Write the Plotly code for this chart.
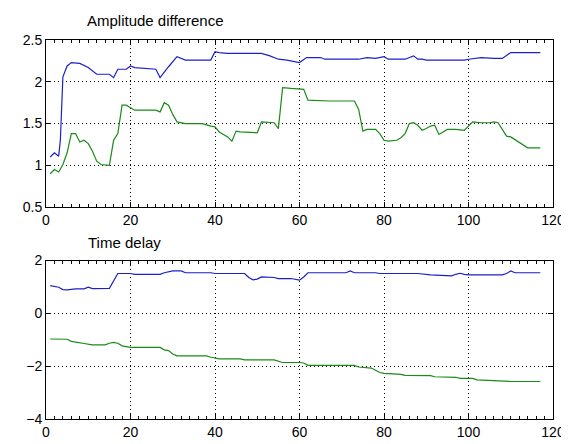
import plotly.graph_objects as go

# ---- Amplitude difference ----
amp1_x = [1, 2, 3, 3.4, 4, 5, 6, 8, 10, 12, 15, 16, 17, 19, 20, 21, 26, 27, 29, 31, 33, 39, 40, 41, 43, 51, 53, 55, 57,
          60, 61.7, 65, 66, 74, 76, 78, 80, 81, 85, 87, 88, 89, 90, 99, 100, 103, 106, 108, 110, 117]
amp1_y = [1.10, 1.15, 1.11, 1.30, 2.06, 2.19, 2.23, 2.22, 2.17, 2.09, 2.09, 2.05, 2.15, 2.15, 2.19, 2.17, 2.15, 2.05, 2.18, 2.30, 2.26, 2.26, 2.36, 2.35, 2.34, 2.34, 2.31, 2.27, 2.26,
          2.23, 2.29, 2.29, 2.27, 2.27, 2.29, 2.28, 2.30, 2.27, 2.27, 2.31, 2.27, 2.27, 2.26, 2.26, 2.27, 2.29, 2.28, 2.28, 2.35, 2.35]

amp2_x = [1, 2, 3, 4, 5, 6, 7, 8, 9, 10, 11, 12, 13, 15, 16, 17, 18, 19, 20, 21, 26, 27, 28, 29, 30, 31, 33, 37, 39, 40, 41, 43, 44, 45, 46, 50, 51, 54, 55, 56,
          58, 61, 62, 67, 73, 74, 75, 76, 78, 79, 80, 81, 83, 84, 85, 86, 87, 88, 89, 90, 91, 92, 93, 94, 95, 97, 99, 100, 101, 103, 105, 106, 107, 108, 109, 110, 111, 112, 113, 114, 117]
amp2_y = [0.90, 0.95, 0.92, 1.01, 1.15, 1.38, 1.38, 1.28, 1.30, 1.26, 1.17, 1.05, 1.01, 1.00, 1.30, 1.38, 1.72, 1.72, 1.69, 1.66, 1.66, 1.64, 1.75, 1.72, 1.61, 1.52, 1.50, 1.50, 1.47, 1.46, 1.40, 1.34, 1.29, 1.41, 1.40, 1.39, 1.52, 1.51, 1.44, 1.93,
          1.92, 1.91, 1.78, 1.77, 1.77, 1.67, 1.41, 1.43, 1.43, 1.38, 1.30, 1.29, 1.30, 1.33, 1.38, 1.50, 1.51, 1.48, 1.42, 1.44, 1.47, 1.48, 1.37, 1.40, 1.43, 1.43, 1.42, 1.47, 1.52, 1.51, 1.51, 1.52, 1.51, 1.43, 1.35, 1.34, 1.31, 1.28, 1.24, 1.21, 1.21]

# ---- Time delay ----
td1_x = [1, 2, 3, 4, 5, 7, 9, 10, 11, 15, 16, 17, 20, 21, 27, 28, 30, 32, 33, 39, 40, 47, 48, 49, 50, 51, 54, 55, 58, 60,
         61, 62, 71, 72, 73, 78, 79, 88, 91, 94, 96, 97, 98, 99, 100, 108, 109, 110, 111, 117]
td1_y = [1.05, 1.01, 0.99, 0.90, 0.89, 0.93, 0.93, 0.99, 0.94, 0.95, 1.24, 1.51, 1.51, 1.48, 1.48, 1.54, 1.61, 1.61, 1.54, 1.54, 1.51, 1.51, 1.36, 1.27, 1.30, 1.38, 1.36, 1.32, 1.32, 1.26,
         1.38, 1.54, 1.54, 1.61, 1.54, 1.54, 1.51, 1.51, 1.46, 1.42, 1.42, 1.48, 1.52, 1.48, 1.46, 1.46, 1.51, 1.61, 1.54, 1.54]

td2_x = [1, 5, 6, 7, 9, 11, 14, 15, 16, 17, 18, 19, 20, 27, 28, 29, 30, 31, 38, 39, 40, 41, 46, 47, 54, 55, 56, 60,
         61, 62, 73, 74, 77, 78, 79, 80, 84, 85, 91, 92, 97, 98, 101, 102, 109, 110, 117]
td2_y = [-0.97, -0.98, -1.06, -1.08, -1.14, -1.19, -1.19, -1.13, -1.10, -1.13, -1.23, -1.26, -1.29, -1.29, -1.38, -1.41, -1.54, -1.61, -1.61, -1.66, -1.70, -1.72, -1.72, -1.76, -1.76, -1.81, -1.86, -1.86,
         -1.88, -1.97, -1.97, -2.03, -2.07, -2.15, -2.24, -2.27, -2.31, -2.35, -2.36, -2.40, -2.42, -2.46, -2.46, -2.52, -2.55, -2.58, -2.58]

x_tick_step = 20
x_minor_step = 2
amp_tick_step = 0.5
td_tick_step = 2

BLUE = "#1f1fc8"
GREEN = "#1a8a1a"
FONT = "Liberation Sans, Arial, sans-serif"
GRID = dict(showgrid=True, gridcolor="black", griddash="1px,3px", gridwidth=1)

fig = go.Figure()
fig.add_trace(go.Scatter(x=amp1_x, y=amp1_y, mode="lines", line=dict(color=BLUE, width=1.2), xaxis="x", yaxis="y"))
fig.add_trace(go.Scatter(x=amp2_x, y=amp2_y, mode="lines", line=dict(color=GREEN, width=1.2), xaxis="x", yaxis="y"))
fig.add_trace(go.Scatter(x=td1_x, y=td1_y, mode="lines", line=dict(color=BLUE, width=1.2), xaxis="x2", yaxis="y2"))
fig.add_trace(go.Scatter(x=td2_x, y=td2_y, mode="lines", line=dict(color=GREEN, width=1.2), xaxis="x2", yaxis="y2"))
# invisible helpers so the top-edge tick axes get drawn
fig.add_trace(go.Scatter(x=[amp1_x[0]], y=[amp1_y[0]], mode="markers", marker=dict(opacity=0), hoverinfo="skip", xaxis="x3", yaxis="y"))
fig.add_trace(go.Scatter(x=[td1_x[0]], y=[td1_y[0]], mode="markers", marker=dict(opacity=0), hoverinfo="skip", xaxis="x4", yaxis="y2"))

tickstyle = dict(range=[0, 120], tickmode="linear", tick0=0, dtick=x_tick_step,
                 ticks="inside", ticklen=5, tickcolor="black",
                 minor=dict(ticks="inside", tick0=0, dtick=x_minor_step, ticklen=3, tickcolor="black", showgrid=False))
xcommon = dict(showline=True, linecolor="black", linewidth=1, mirror=True,
               zeroline=False, tickfont=dict(family=FONT, size=14, color="black"), **tickstyle, **GRID)
xtop = dict(side="top", showticklabels=False, showgrid=False, zeroline=False, showline=False, **tickstyle)
ycommon = dict(showline=True, linecolor="black", linewidth=1, mirror="ticks",
               ticks="inside", ticklen=5, tickcolor="black", tickmode="linear",
               zeroline=False, tickfont=dict(family=FONT, size=14, color="black"), **GRID)

fig.update_layout(
    width=569, height=444,
    margin=dict(l=38, r=12, t=32, b=22),
    paper_bgcolor="white", plot_bgcolor="white",
    showlegend=False,
    xaxis=dict(domain=[0, 1], anchor="y", **xcommon),
    yaxis=dict(domain=[0.559, 1], anchor="x", range=[0.5, 2.5], tick0=0.5, dtick=amp_tick_step, **ycommon),
    xaxis2=dict(domain=[0, 1], anchor="y2", **xcommon),
    yaxis2=dict(domain=[0, 0.418], anchor="x2", range=[-4, 2], tick0=-4, dtick=td_tick_step, **ycommon),
    xaxis3=dict(overlaying="x", anchor="y", **xtop),
    xaxis4=dict(overlaying="x2", anchor="y2", **xtop),
    annotations=[
        dict(text="Amplitude difference", xref="paper", yref="paper", x=(150 - 38) / 519, y=(444 - 22 - 12) / 390,
             xanchor="center", yanchor="middle", showarrow=False, font=dict(family=FONT, size=15, color="black")),
        dict(text="Time delay", xref="paper", yref="paper", x=(118 - 38) / 519, y=(444 - 22 - 240) / 390,
             xanchor="center", yanchor="middle", showarrow=False, font=dict(family=FONT, size=15, color="black")),
    ],
)

fig.write_html("out.html")
